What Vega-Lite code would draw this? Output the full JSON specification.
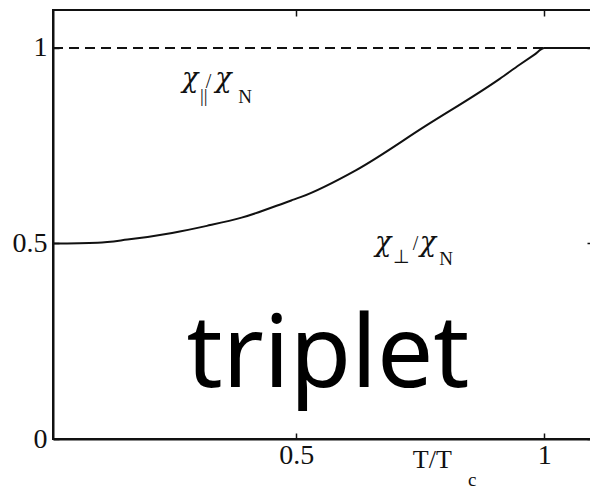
{
  "$schema": "https://vega.github.io/schema/vega-lite/v6.json",
  "width": 540,
  "height": 429,
  "autosize": {"type": "none"},
  "padding": {"left": 53, "top": 10, "right": 0, "bottom": 51},
  "background": "white",
  "config": {
    "view": {"stroke": "#111111", "strokeWidth": 2},
    "axis": {
      "grid": false,
      "title": null,
      "domainColor": "#111111",
      "domainWidth": 2,
      "tickColor": "#111111",
      "tickWidth": 1.5,
      "tickSize": -6,
      "labelFont": "Liberation Serif",
      "labelFontSize": 28,
      "labelColor": "#111111"
    }
  },
  "datasets": {
    "parallel": [
      {"T": 0.01, "chi": 1.0},
      {"T": 1.0, "chi": 1.0}
    ],
    "perpendicular": [
      {"T": 0.01, "chi": 0.5},
      {"T": 0.10, "chi": 0.502},
      {"T": 0.16, "chi": 0.51},
      {"T": 0.25, "chi": 0.527},
      {"T": 0.32, "chi": 0.545},
      {"T": 0.39, "chi": 0.566},
      {"T": 0.49, "chi": 0.61},
      {"T": 0.51, "chi": 0.619},
      {"T": 0.62, "chi": 0.687},
      {"T": 0.76, "chi": 0.8},
      {"T": 0.91, "chi": 0.921},
      {"T": 0.95, "chi": 0.957},
      {"T": 0.98, "chi": 0.983},
      {"T": 1.0, "chi": 1.0},
      {"T": 1.098, "chi": 1.0}
    ],
    "symbols": [
      {"t": "χ", "T": 0.27, "chi": 0.9},
      {"t": "χ", "T": 0.337, "chi": 0.9},
      {"t": "χ", "T": 0.659, "chi": 0.481},
      {"t": "χ", "T": 0.749, "chi": 0.481}
    ],
    "slashes": [
      {"t": "/", "T": 0.318, "chi": 0.898},
      {"t": "/", "T": 0.735, "chi": 0.483}
    ],
    "subscripts": [
      {"t": "||", "T": 0.306, "chi": 0.862},
      {"t": "N", "T": 0.383, "chi": 0.859},
      {"t": "⊥", "T": 0.695, "chi": 0.45},
      {"t": "N", "T": 0.788, "chi": 0.445},
      {"t": "c", "T": 0.846, "chi": -0.12}
    ],
    "axisTitle": [
      {"t": "T/T", "T": 0.735, "chi": -0.074}
    ],
    "caption": [
      {"t": "triplet", "T": 0.564, "chi": 0.133}
    ]
  },
  "layer": [
    {
      "data": {"name": "parallel"},
      "mark": {"type": "line", "color": "#111111", "strokeWidth": 2, "strokeDash": [10, 6]},
      "encoding": {
        "x": {"field": "T", "type": "quantitative",
              "scale": {"domain": [0.01, 1.098], "nice": false, "zero": false},
              "axis": {"orient": "bottom", "values": [0.5, 1], "format": "~g", "labelPadding": 8}},
        "y": {"field": "chi", "type": "quantitative",
              "scale": {"domain": [0, 1.097], "nice": false, "zero": false},
              "axis": {"orient": "left", "values": [0, 0.5, 1], "format": "~g", "labelPadding": 12}}
      }
    },
    {
      "data": {"name": "perpendicular"},
      "mark": {"type": "line", "color": "#111111", "strokeWidth": 2, "interpolate": "monotone"},
      "encoding": {
        "x": {"field": "T", "type": "quantitative",
              "axis": {"orient": "top", "values": [0.5, 1], "labels": false, "domain": false}},
        "y": {"field": "chi", "type": "quantitative",
              "axis": {"orient": "right", "values": [0, 0.5, 1], "labels": false, "domain": false}}
      }
    },
    {
      "data": {"name": "symbols"},
      "mark": {"type": "text", "align": "left", "baseline": "alphabetic",
               "font": "DejaVu Serif", "fontSize": 27, "fontStyle": "italic", "color": "#111111"},
      "encoding": {
        "x": {"field": "T", "type": "quantitative", "axis": null},
        "y": {"field": "chi", "type": "quantitative", "axis": null},
        "text": {"field": "t"}
      }
    },
    {
      "data": {"name": "slashes"},
      "mark": {"type": "text", "align": "left", "baseline": "alphabetic",
               "font": "Liberation Serif", "fontSize": 20, "color": "#111111"},
      "encoding": {
        "x": {"field": "T", "type": "quantitative", "axis": null},
        "y": {"field": "chi", "type": "quantitative", "axis": null},
        "text": {"field": "t"}
      }
    },
    {
      "data": {"name": "subscripts"},
      "mark": {"type": "text", "align": "left", "baseline": "alphabetic",
               "font": "Liberation Serif", "fontSize": 19, "color": "#111111"},
      "encoding": {
        "x": {"field": "T", "type": "quantitative", "axis": null},
        "y": {"field": "chi", "type": "quantitative", "axis": null},
        "text": {"field": "t"}
      }
    },
    {
      "data": {"name": "axisTitle"},
      "mark": {"type": "text", "align": "left", "baseline": "alphabetic",
               "font": "Liberation Serif", "fontSize": 26, "color": "#111111"},
      "encoding": {
        "x": {"field": "T", "type": "quantitative", "axis": null},
        "y": {"field": "chi", "type": "quantitative", "axis": null},
        "text": {"field": "t"}
      }
    },
    {
      "data": {"name": "caption"},
      "mark": {"type": "text", "align": "center", "baseline": "alphabetic",
               "font": "Noto Sans", "fontSize": 100, "color": "black"},
      "encoding": {
        "x": {"field": "T", "type": "quantitative", "axis": null},
        "y": {"field": "chi", "type": "quantitative", "axis": null},
        "text": {"field": "t"}
      }
    }
  ]
}
